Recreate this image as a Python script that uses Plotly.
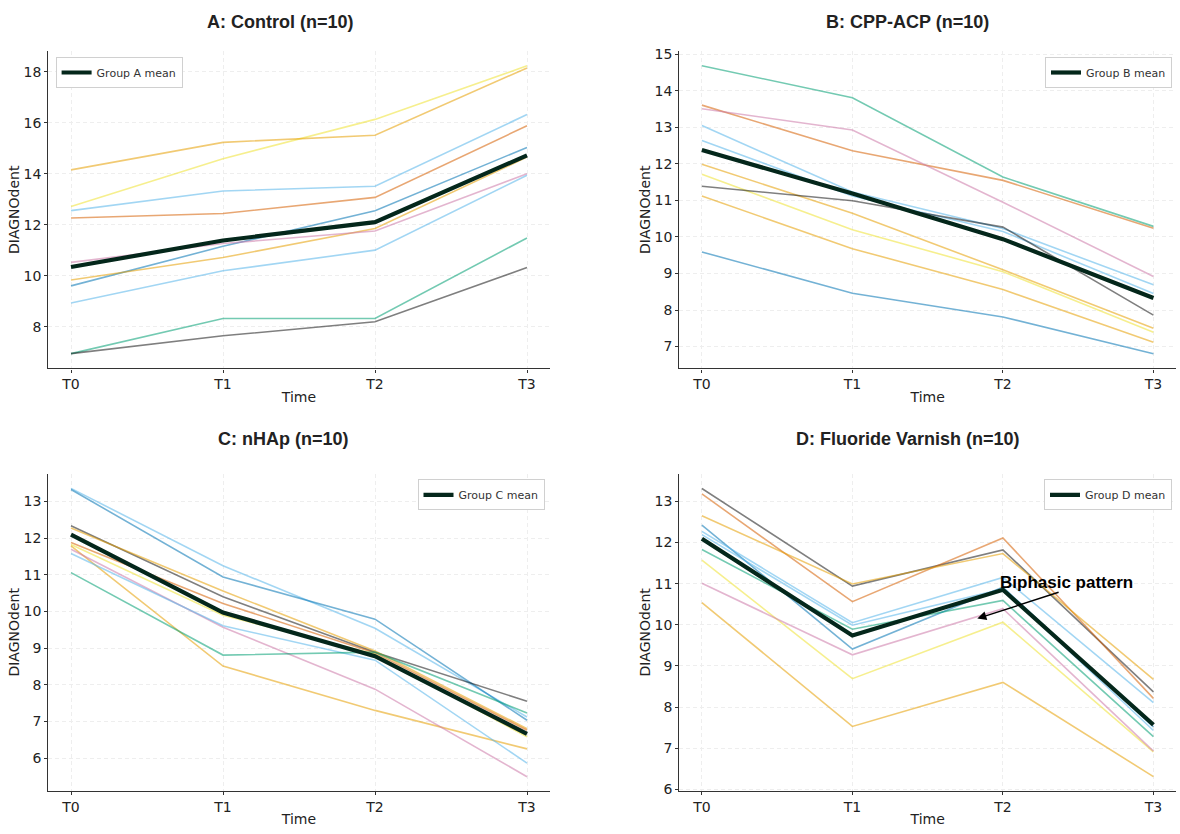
import plotly.graph_objects as go

times = ["T0", "T1", "T2", "T3"]

# ---- Panel A: Control ----
a_subjects = [
    [12.71, 14.59, 16.13, 18.23],
    [14.15, 15.23, 15.51, 18.15],
    [12.55, 13.32, 13.51, 16.32],
    [12.26, 12.44, 13.07, 15.88],
    [9.60, 11.15, 12.55, 15.03],
    [9.83, 10.71, 11.85, 14.65],
    [10.52, 11.26, 11.75, 14.00],
    [8.93, 10.19, 11.00, 13.94],
    [6.94, 8.32, 8.32, 11.48],
    [6.94, 7.64, 8.19, 10.32],
]
a_colors = ["yellow", "orange", "sky", "verm", "blue", "orange", "pink", "sky", "green", "gray"]
a_mean = [10.34, 11.38, 12.10, 14.72]

# ---- Panel B: CPP-ACP ----
b_subjects = [
    [14.69, 13.81, 11.64, 10.29],
    [13.61, 12.36, 11.55, 10.24],
    [13.51, 12.93, 10.95, 8.92],
    [13.05, 11.23, 10.23, 8.69],
    [12.64, 11.12, 10.15, 8.45],
    [11.99, 10.65, 9.10, 7.50],
    [11.72, 10.20, 9.05, 7.39],
    [11.39, 10.99, 10.27, 7.86],
    [11.12, 9.68, 8.56, 7.12],
    [9.59, 8.46, 7.81, 6.80],
]
b_colors = ["green", "verm", "pink", "sky", "sky", "orange", "yellow", "gray", "orange", "blue"]
b_mean = [12.38, 11.19, 9.94, 8.33]

# ---- Panel C: nHAp ----
c_subjects = [
    [13.36, 11.25, 9.54, 7.12],
    [13.33, 10.94, 9.79, 7.03],
    [12.34, 10.40, 8.89, 7.55],
    [12.28, 10.56, 8.92, 6.80],
    [11.88, 10.22, 8.87, 6.76],
    [11.83, 9.90, 8.83, 6.58],
    [11.79, 8.51, 7.30, 6.25],
    [11.70, 9.57, 7.88, 5.49],
    [11.58, 9.61, 8.67, 5.86],
    [11.06, 8.81, 8.89, 7.23],
]
c_colors = ["sky", "blue", "gray", "orange", "verm", "yellow", "orange", "pink", "sky", "green"]
c_mean = [12.10, 9.97, 8.78, 6.66]

# ---- Panel D: Fluoride Varnish ----
d_subjects = [
    [13.31, 10.94, 11.82, 8.37],
    [13.18, 10.56, 12.11, 8.21],
    [12.65, 10.99, 11.73, 8.67],
    [12.42, 9.41, 10.91, 7.52],
    [12.27, 10.05, 11.15, 8.11],
    [12.19, 9.99, 10.87, 7.43],
    [11.83, 9.89, 10.59, 7.28],
    [11.57, 8.69, 10.06, 6.91],
    [11.01, 9.27, 10.39, 6.93],
    [10.54, 7.53, 8.60, 6.31],
]
d_colors = ["gray", "verm", "orange", "blue", "sky", "sky", "green", "yellow", "pink", "orange"]
d_mean = [12.09, 9.74, 10.85, 7.57]

titles = ["A: Control (n=10)", "B: CPP-ACP (n=10)", "C: nHAp (n=10)", "D: Fluoride Varnish (n=10)"]
mean_names = ["Group A mean", "Group B mean", "Group C mean", "Group D mean"]
annot_text = "Biphasic pattern"
annot_head = (1.83, 10.15)
annot_tail = (2.38, 10.80)
annot_pos = (2.42, 11.02)

palette = {
    "orange": "rgba(230,159,0,0.55)",
    "sky": "rgba(86,180,233,0.55)",
    "green": "rgba(0,158,115,0.55)",
    "yellow": "rgba(240,228,66,0.6)",
    "blue": "rgba(0,114,178,0.55)",
    "verm": "rgba(213,94,0,0.55)",
    "pink": "rgba(204,121,167,0.55)",
    "gray": "rgba(0,0,0,0.5)",
}
MEAN_COLOR = "#04271b"

panels = [
    (a_subjects, a_colors, a_mean),
    (b_subjects, b_colors, b_mean),
    (c_subjects, c_colors, c_mean),
    (d_subjects, d_colors, d_mean),
]

W, H = 1180, 834
# pixel geometry of axes: (left, right, top, bottom)
geom = [
    (48.2, 549.8, 46.7, 368.3),
    (679.3, 1176.0, 46.7, 368.3),
    (48.2, 549.8, 475.0, 796.5),
    (679.3, 1176.0, 475.0, 796.5),
]
yranges = [[6.36, 18.81], [6.40, 15.09], [5.10, 13.76], [5.96, 13.67]]
ydticks = [2, 1, 1, 1]
title_pos = [(280, 17), (907, 17), (283, 440), (908, 440)]
legend_pos = [
    (55.6 / W, 1 - 52.7 / H, "left"),
    (1172 / W, 1 - 52.7 / H, "right"),
    (544.5 / W, 1 - 480.7 / H, "right"),
    (1172 / W, 1 - 480.7 / H, "right"),
]

fig = go.Figure()
layout = dict(
    width=W, height=H,
    margin=dict(l=0, r=0, t=0, b=0),
    paper_bgcolor="white",
    plot_bgcolor="white",
    showlegend=True,
    font=dict(family="DejaVu Sans", size=13, color="#222"),
)

tick_font = dict(family="DejaVu Sans", size=14, color="#222")
label_font = dict(family="DejaVu Sans", size=14, color="#222")
annotations = []

for i, (subs, cols, mean) in enumerate(panels):
    n = "" if i == 0 else str(i + 1)
    xa, ya = "x" + n, "y" + n
    leg = "legend" + n
    for s, c in zip(subs, cols):
        fig.add_trace(go.Scatter(
            x=times, y=s, mode="lines", xaxis=xa, yaxis=ya,
            line=dict(color=palette[c], width=1.6),
            showlegend=False, hoverinfo="skip",
        ))
    fig.add_trace(go.Scatter(
        x=times, y=mean, mode="lines", xaxis=xa, yaxis=ya,
        line=dict(color=MEAN_COLOR, width=4.2),
        name=mean_names[i], legend=leg, showlegend=True,
    ))
    l, r, t, b = geom[i]
    layout["xaxis" + n] = dict(
        domain=[l / W, r / W], anchor=ya,
        type="category", range=[-0.15, 3.15],
        showline=True, linecolor="#333", linewidth=1.2,
        ticks="outside", ticklen=3, tickcolor="#333",
        showgrid=True, gridcolor="#eeeeee", griddash="4px,3px", gridwidth=0.8,
        zeroline=False, tickfont=tick_font,
        title=dict(text="Time", font=label_font, standoff=0),
    )
    layout["yaxis" + n] = dict(
        domain=[1 - b / H, 1 - t / H], anchor=xa,
        range=yranges[i], dtick=ydticks[i], tick0=0,
        showline=True, linecolor="#333", linewidth=1.2,
        ticks="outside", ticklen=3, tickcolor="#333",
        showgrid=True, gridcolor="#eeeeee", griddash="4px,3px", gridwidth=0.8,
        zeroline=False, tickfont=tick_font,
        title=dict(text="DIAGNOdent", font=label_font, standoff=0),
    )
    lx, ly, lanchor = legend_pos[i]
    layout[leg] = dict(
        x=lx, y=ly, xanchor=lanchor, yanchor="top",
        xref="paper", yref="paper",
        bgcolor="white", bordercolor="#d0d0d0", borderwidth=1,
        font=dict(family="DejaVu Sans", size=11, color="#333"),
        itemwidth=30,
    )
    tx, ty = title_pos[i]
    annotations.append(dict(
        text="<b>" + titles[i] + "</b>", x=tx / W, y=1 - ty / H,
        xref="paper", yref="paper", xanchor="center", yanchor="middle",
        showarrow=False, font=dict(family="Liberation Sans", size=18, color="#222"),
    ))

# annotation on panel D
annotations.append(dict(
    text="<b>" + annot_text + "</b>", x=annot_pos[0], y=annot_pos[1],
    xref="x4", yref="y4", showarrow=False, xanchor="center", yanchor="middle",
    font=dict(family="Liberation Sans", size=17, color="black"),
))
annotations.append(dict(
    text="", x=annot_head[0], y=annot_head[1], xref="x4", yref="y4",
    ax=annot_tail[0], ay=annot_tail[1], axref="x4", ayref="y4",
    showarrow=True, arrowhead=2, arrowsize=1.2, arrowwidth=1.5, arrowcolor="black",
))

layout["annotations"] = annotations
fig.update_layout(**layout)
fig.write_html("out.html")
